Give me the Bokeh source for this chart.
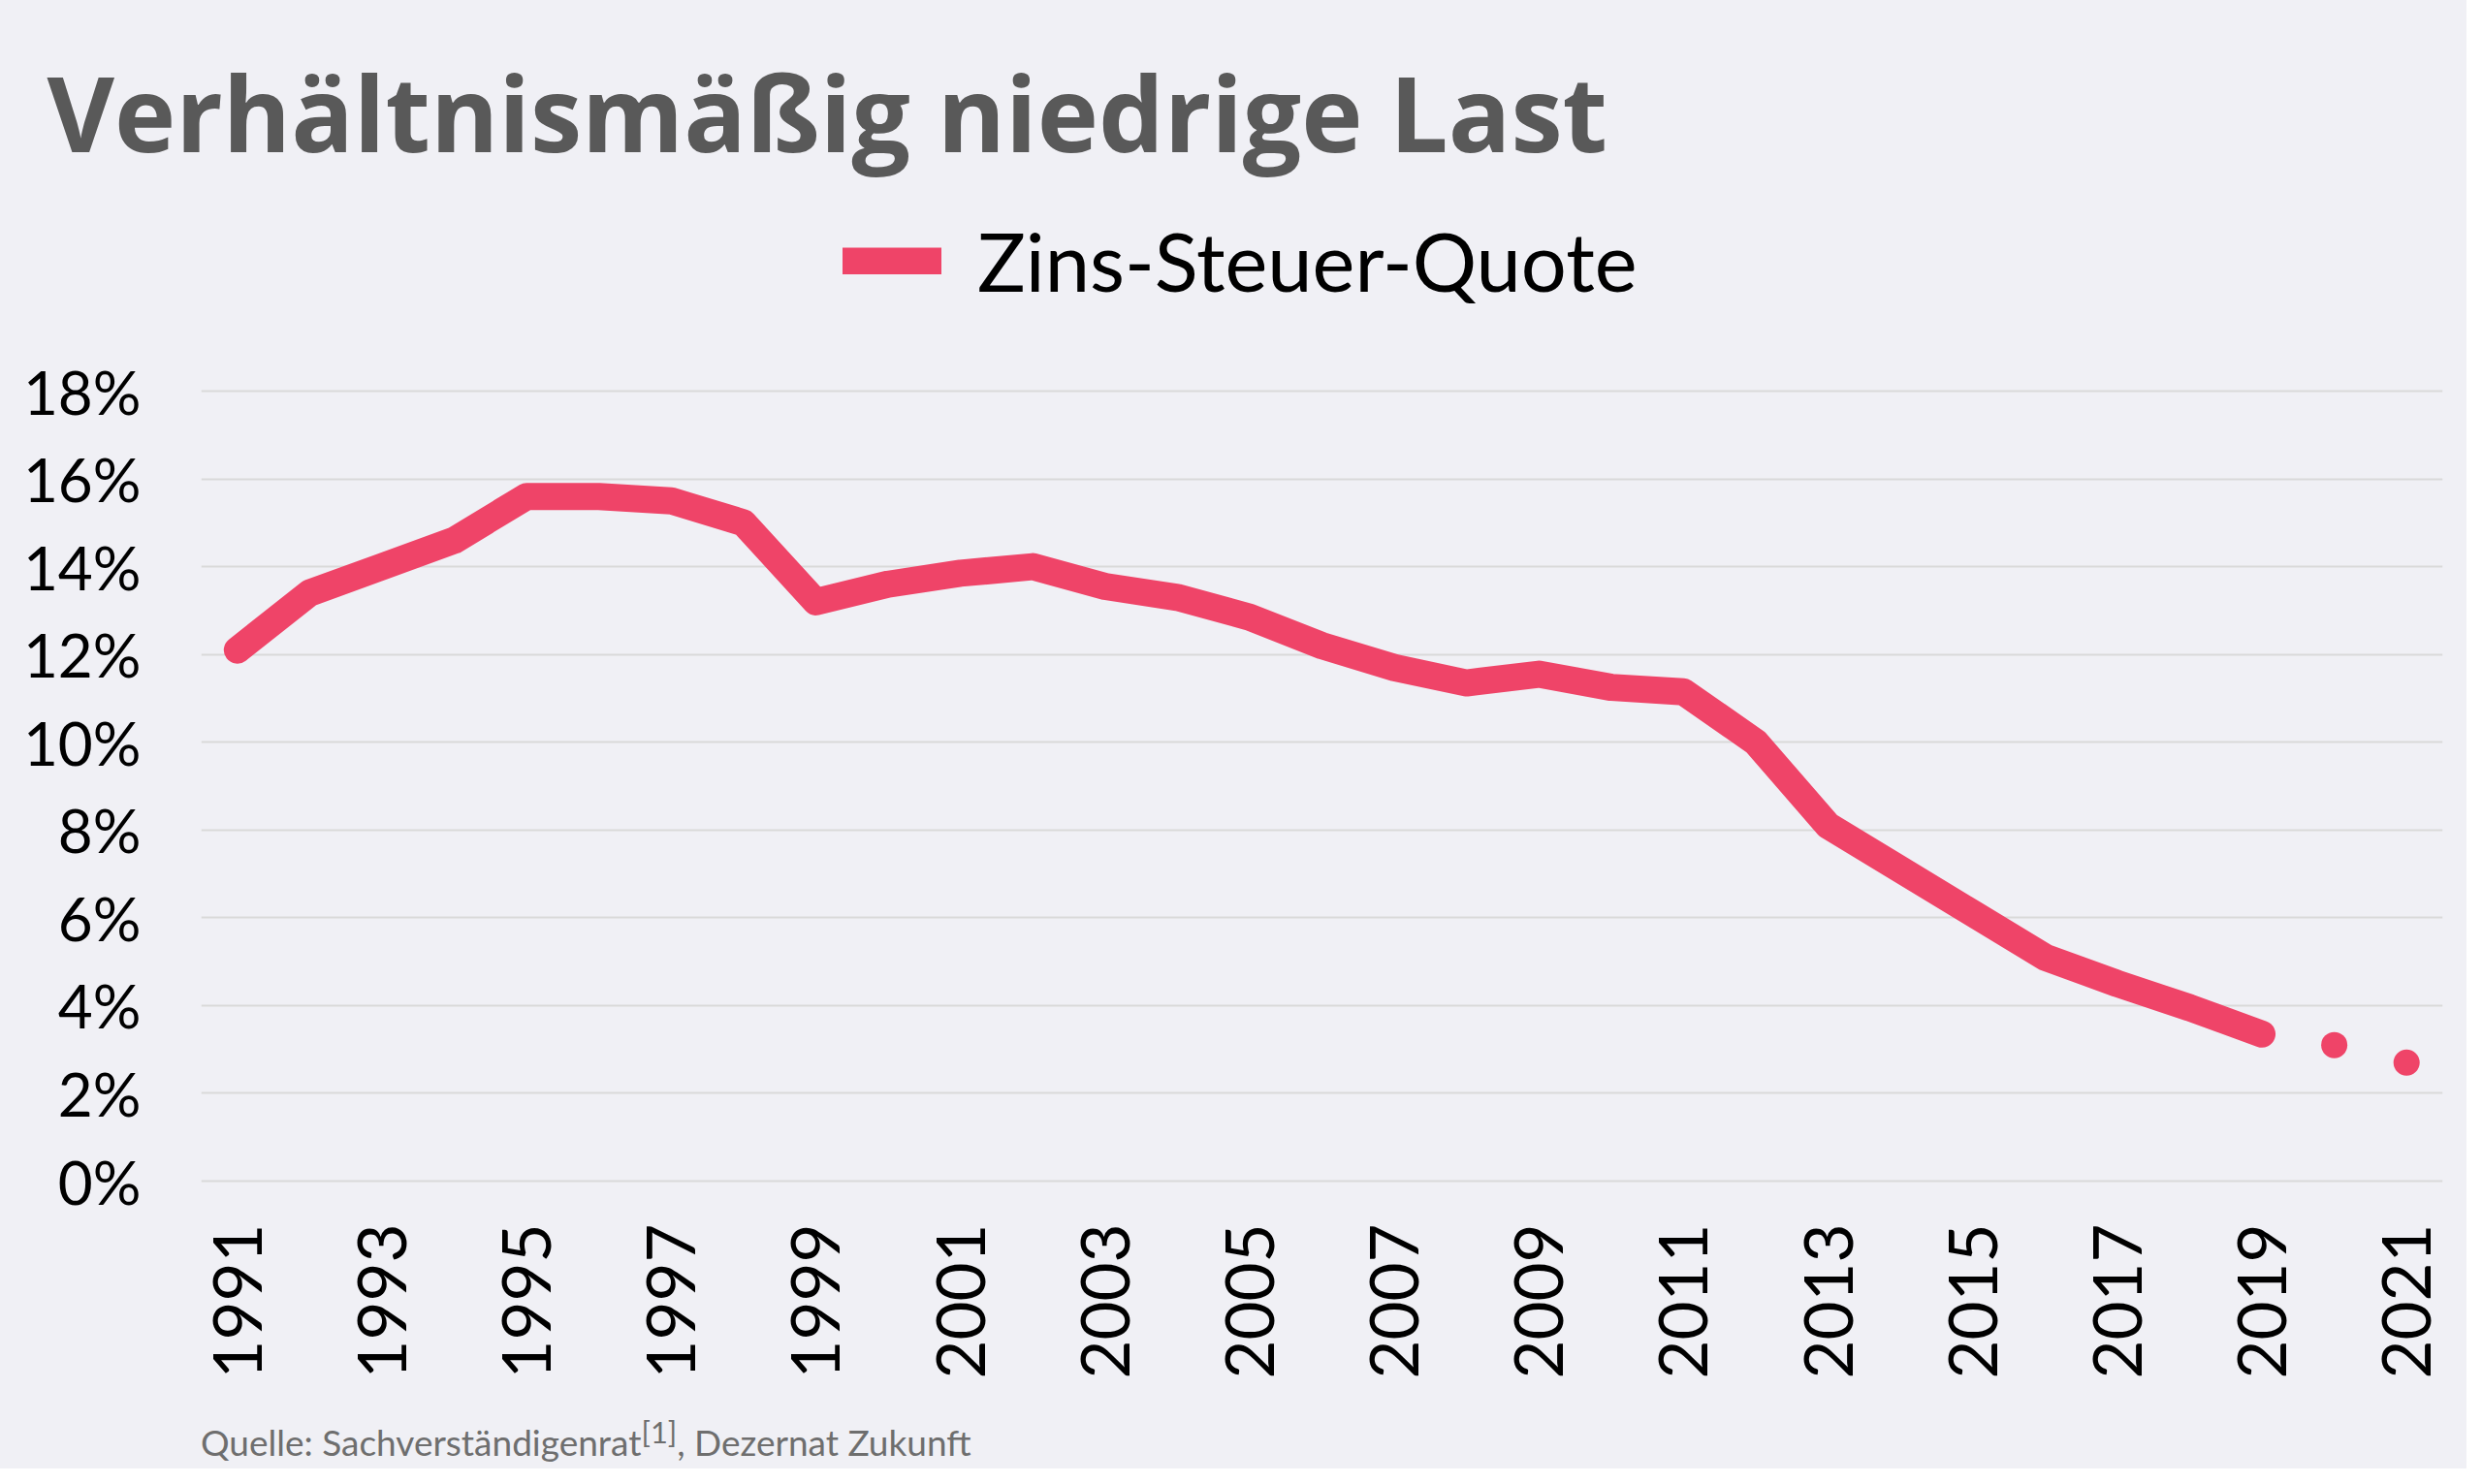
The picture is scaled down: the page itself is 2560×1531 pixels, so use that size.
from bokeh.plotting import figure
from bokeh.models import (Range1d, FixedTicker, Legend, LegendItem, Title, Div)
from bokeh.layouts import column
from bokeh.embed import file_html
from bokeh.resources import INLINE
import math

# ---- data -------------------------------------------------------------
years = [1991, 1992, 1993, 1994, 1995, 1996, 1997, 1998, 1999, 2000,
         2001, 2002, 2003, 2004, 2005, 2006, 2007, 2008, 2009, 2010,
         2011, 2012, 2013, 2014, 2015, 2016, 2017, 2018, 2019, 2020, 2021]
zins_steuer_quote = [12.1, 13.4, 14.0, 14.6, 15.6, 15.6, 15.5, 15.0, 13.2, 13.6,
                     13.85, 14.0, 13.55, 13.3, 12.85, 12.2, 11.7, 11.35, 11.55, 11.25,
                     11.15, 10.0, 8.1, 7.1, 6.1, 5.1, 4.5, 3.95, 3.35, 3.1, 2.7]
n_line = 29  # 1991-2019 drawn as line, 2020-2021 as single points
x_tick_years = [1991, 1993, 1995, 1997, 1999, 2001, 2003, 2005, 2007, 2009,
                2011, 2013, 2015, 2017, 2019, 2021]
y_tick_values = [0, 2, 4, 6, 8, 10, 12, 14, 16, 18]
series_name = "Zins-Steuer-Quote"
title_text = "Verhältnismäßig niedrige Last"
source_html = "Quelle: Sachverständigenrat<sup>[1]</sup>, Dezernat Zukunft"

BG = "#F0F0F5"
RED = "#EF4468"

W, H = 2544, 1440
# frame spans y 200..1236 px; 0% at 1218 px, 18% at 403 px
px_per_unit = (1218 - 403) / 18.0
y_lo = -(1236 - 1218) / px_per_unit
y_hi = 18 + (403 - 200) / px_per_unit

p = figure(width=W, height=H, output_backend="svg", toolbar_location=None,
           x_range=Range1d(1990.5, 2021.5), y_range=Range1d(y_lo, y_hi),
           min_border_left=207, min_border_right=25,
           min_border_top=200, min_border_bottom=204)
p.background_fill_color = BG
p.border_fill_color = BG
p.outline_line_color = None

# title
p.title = Title(text=title_text, align="left", offset=-159, standoff=26,
                text_font="Open Sans", text_font_style="bold",
                text_font_size="107px", text_color="#595959")

line_r = p.line(years[:n_line], zins_steuer_quote[:n_line], line_color=RED,
                line_width=28, line_cap="round", line_join="round")
p.scatter(years[n_line:], zins_steuer_quote[n_line:], size=27,
          fill_color=RED, line_color=None)

# axes
p.xaxis.ticker = FixedTicker(ticks=x_tick_years)
p.xaxis.major_label_overrides = {y: str(y) for y in x_tick_years}
p.xaxis.major_label_orientation = math.pi / 2
p.xaxis.major_label_text_font = "Lato"
p.xaxis.major_label_text_font_size = "69px"
p.xaxis.major_label_text_color = "#000000"
p.xaxis.major_label_standoff = 20
p.xaxis.axis_line_color = None
p.xaxis.major_tick_line_color = None
p.xaxis.minor_tick_line_color = None

p.yaxis.ticker = FixedTicker(ticks=y_tick_values)
p.yaxis.major_label_overrides = {v: f"{v}%" for v in y_tick_values}
p.yaxis.major_label_text_font = "Lato"
p.yaxis.major_label_text_font_size = "62px"
p.yaxis.major_label_text_color = "#000000"
p.yaxis.major_label_standoff = 56
p.yaxis.axis_line_color = None
p.yaxis.major_tick_line_color = None
p.yaxis.minor_tick_line_color = None

p.xgrid.grid_line_color = None
p.ygrid.grid_line_color = "#D9D9D9"
p.ygrid.grid_line_width = 2

# legend (inside the invisible upper part of the frame)
legend = Legend(items=[LegendItem(label=series_name, renderers=[line_r])],
                location=(662, 917), orientation="horizontal",
                glyph_width=102, glyph_height=28, label_standoff=37,
                label_text_font="Lato", label_text_font_size="83px",
                label_text_color="#000000",
                padding=0, margin=0, border_line_color=None,
                background_fill_alpha=0)
p.add_layout(legend)

# source note
src = Div(text=source_html, width=W, height=1515 - H, margin=0,
          styles={"background-color": BG, "font-family": "Lato",
                  "font-size": "37px", "color": "#6E6E6E",
                  "line-height": "1", "padding-left": "207px",
                  "padding-top": "23px", "box-sizing": "border-box"})

layout = column(p, src, spacing=0)
layout.styles = {"background-color": BG}
open("out.html", "w").write(file_html(layout, INLINE))
